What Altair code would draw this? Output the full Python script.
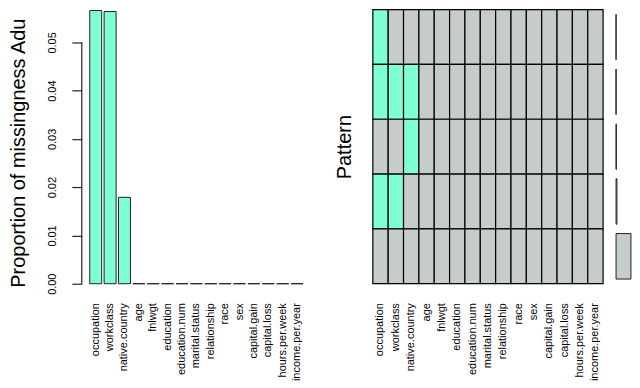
import altair as alt
import pandas as pd

variables = ["occupation", "workclass", "native.country", "age", "fnlwgt",
             "education", "education.num", "marital.status", "relationship",
             "race", "sex", "capital.gain", "capital.loss", "hours.per.week",
             "income.per.year"]
miss_prop = [0.0566, 0.0564, 0.0179, 0, 0, 0, 0, 0, 0, 0, 0, 0, 0, 0, 0]
y_ticks = [0.0, 0.01, 0.02, 0.03, 0.04, 0.05]

patterns = ["p1", "p2", "p3", "p4", "p5"]
pattern_missing = [["occupation"],
                   ["occupation", "workclass", "native.country"],
                   ["native.country"],
                   ["occupation", "workclass"],
                   []]
pattern_prop = [0.0002, 0.0008, 0.0171, 0.0556, 0.9263]

title_left = "Proportion of missingness Adult"
title_right = "Pattern"

TEAL = "#7FFFD4"
GRAY = "#C5CCCA"
EDGE = "#222222"

miss_df = pd.DataFrame({"variable": variables, "prop": miss_prop})
axis_df = pd.DataFrame({"lo": [y_ticks[0]], "hi": [y_ticks[-1]]})
title_df = pd.DataFrame({"t": [title_left]})

grid_rows = []
for p, miss in zip(patterns, pattern_missing):
    for v in variables:
        grid_rows.append({"pattern": p, "variable": v,
                          "status": "missing" if v in miss else "observed"})
grid_df = pd.DataFrame(grid_rows)
pat_df = pd.DataFrame({"pattern": patterns, "prop": pattern_prop,
                       "status": ["missing"] * 4 + ["observed"]})

color_scale = alt.Scale(domain=["missing", "observed"], range=[TEAL, GRAY])


def x_axis():
    return alt.Axis(title=None, labelAngle=270, labelFontSize=11, ticks=False,
                    tickSize=0, domain=False, labelPadding=19, labelColor="black",
                    labelLimit=0, labelOverlap=False)


def y_axis():
    return alt.Axis(title=None, values=y_ticks, format=".2f", labelAngle=270,
                    labelAlign="center", labelBaseline="bottom",
                    labelFontSize=11, tickSize=10, tickColor=EDGE, tickWidth=1.2,
                    labelPadding=14, offset=8, domain=False, grid=False,
                    labelColor="black", labelOverlap=False)


y_scale = alt.Scale(domain=[0, 0.0568], nice=False)

bars = alt.Chart(miss_df).mark_bar(fill=TEAL, stroke=EDGE, strokeWidth=1).encode(
    x=alt.X("variable:N", sort=variables,
            scale=alt.Scale(paddingInner=0.167, paddingOuter=0), axis=x_axis()),
    y=alt.Y("prop:Q", scale=y_scale, axis=y_axis()),
)

rule = alt.Chart(axis_df).mark_rule(color=EDGE, strokeWidth=1.2).encode(
    x=alt.value(-8),
    y=alt.Y("lo:Q", scale=y_scale, axis=y_axis()),
    y2="hi:Q",
)

ttl = alt.Chart(title_df).mark_text(
    angle=270, align="left", baseline="top", fontSize=20, limit=279,
    ellipsis=" ", color="black"
).encode(x=alt.value(-81), y=alt.value(279), text="t:N")

left = alt.layer(bars, rule, ttl).properties(width=214, height=275)

grid = alt.Chart(grid_df).mark_rect(stroke="#000000", strokeWidth=1.2).encode(
    x=alt.X("variable:N", sort=variables,
            scale=alt.Scale(paddingInner=0, paddingOuter=0), axis=x_axis()),
    y=alt.Y("pattern:N", sort=patterns,
            axis=alt.Axis(title=title_right, labels=False, ticks=False, domain=False,
                          titleFontSize=20, titleFontWeight="normal",
                          titlePadding=18, titleColor="black")),
    color=alt.Color("status:N", scale=color_scale, legend=None),
).properties(width=231, height=275)

bars_r = alt.Chart(pat_df).mark_bar(stroke=EDGE, strokeWidth=1).encode(
    x=alt.X("prop:Q", scale=alt.Scale(domain=[0, 0.93], nice=False), axis=None),
    y=alt.Y("pattern:N", sort=patterns,
            scale=alt.Scale(paddingInner=0.17, paddingOuter=0.085), axis=None),
    color=alt.Color("status:N", scale=color_scale, legend=None),
).properties(width=15, height=275)

inner = alt.hconcat(grid, bars_r, spacing=11)
chart = alt.hconcat(left, inner, spacing=31).properties(
    padding=0, background="white"
).configure(font="Liberation Sans").configure_view(stroke=None)

chart.save("out.html", embed_options={"renderer": "svg", "actions": False})
